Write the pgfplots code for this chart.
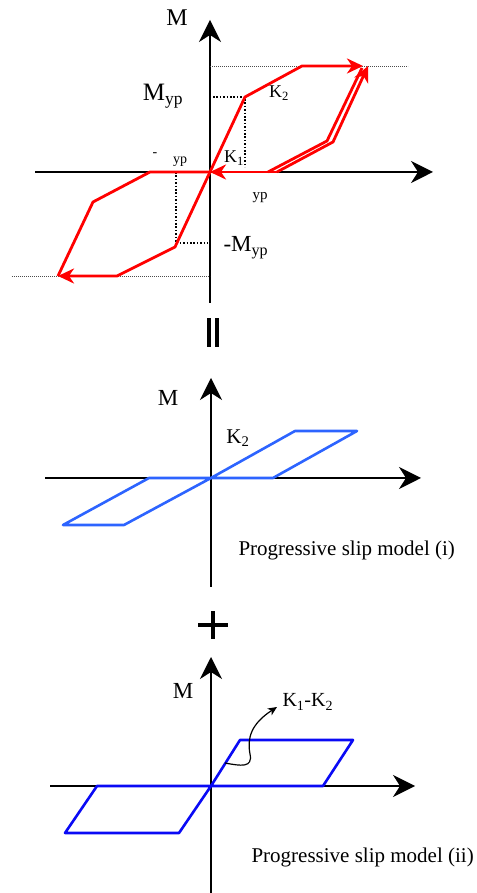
\documentclass[border=0pt]{standalone}
\usepackage{pgfplots}
\pgfplotsset{compat=1.18}
\usepackage{fontspec}
\setmainfont{Liberation Serif}
\usetikzlibrary{arrows.meta}

\definecolor{lightblue}{RGB}{45,100,255}
\definecolor{deepblue}{RGB}{10,10,245}

\pgfplotsset{
  panel/.style={axis lines=middle, ticks=none, scale only axis,
    anchor=south west, clip=false,
    axis line style={line width=1.6pt, -{Stealth[length=22pt,width=22pt,inset=7pt]}}},
  redline/.style={red, line width=2.8pt, line join=round},
  redarrow/.style={redline, -{Stealth[length=16pt,width=15pt,inset=5pt]}},
  dotblack/.style={black, line width=1.6pt, dash pattern=on 1.6pt off 1.8pt},
  dotgray/.style={black!70, line width=0.5pt, dash pattern=on 0.8pt off 1.2pt},
}
\newcommand{\fs}[1]{\fontsize{#1}{#1}\selectfont}

\begin{document}
\begin{tikzpicture}[x=1pt,y=1pt]
\useasboundingbox (0,0) rectangle (476,893);

% panel 1: combined hysteresis
\begin{axis}[panel, at={(35,590)}, width=398pt, height=283pt,
  xmin=-175, xmax=223, ymin=-131, ymax=152]
\addplot[dotgray] coordinates {(0,106) (198,106)};
\addplot[dotgray] coordinates {(-198,-104) (0,-104)};
\addplot[dotblack] coordinates {(3,75) (35,75) (35,5)};
\addplot[dotblack] coordinates {(-34,0) (-34,-71) (-2,-71)};
\addplot[redarrow] coordinates {(0,0) (35,75) (92,106) (153,106)};
\addplot[redarrow] coordinates {(67,0) (123,30) (158,106)};
\addplot[redline] coordinates {(58,0) (117,31) (152,104)};
\addplot[redarrow] coordinates {(67,0) (0,0)};
\addplot[redarrow] coordinates {(0,0) (-35,-75) (-93,-104) (-152,-104)};
\addplot[redline] coordinates {(-152,-104) (-117,-30) (-60,0) (0,0)};
\node at (axis cs:-33,154) {\fs{24}M};
\node at (axis cs:-47,76) {\fs{25}M\textsubscript{yp}};
\node at (axis cs:69,79) {\fs{18}K\textsubscript{2}};
\node at (axis cs:24,14) {\fs{18}K\textsubscript{1}};
\node at (axis cs:-55,17) {\fs{14}-};
\node at (axis cs:-30,10) {\fs{14}yp};
\node at (axis cs:50,-26) {\fs{15}yp};
\node[anchor=west] at (axis cs:10,-76) {\fs{23}-M\textsubscript{yp}};
\end{axis}

% equals sign
\fill (207,546) rectangle (211,575);
\fill (215,546) rectangle (219,575);

% panel 2: progressive slip model (i)
\begin{axis}[panel, at={(45,306)}, width=376pt, height=209pt,
  xmin=-166, xmax=210, ymin=-109, ymax=100]
\addplot[lightblue, line width=2.6pt, line join=round] coordinates {
  (0,0) (84,47) (146,47) (62,0) (0,0) (-62,0) (-148,-47) (-87,-47) (0,0)};
\node at (axis cs:-43,80) {\fs{23}M};
\node at (axis cs:27,40) {\fs{21}K\textsubscript{2}};
\node[anchor=west] at (axis cs:24,-72) {\fs{21}Progressive slip model (i)};
\end{axis}

% plus sign
\draw[line width=4.5pt] (198,268) -- (228,268);
\draw[line width=4.5pt] (213,254) -- (213,282);

% panel 3: progressive slip model (ii)
\begin{axis}[panel, at={(50,0)}, width=365pt, height=236pt,
  xmin=-161, xmax=204, ymin=-107, ymax=129]
\addplot[deepblue, line width=2.6pt, line join=round] coordinates {
  (0,0) (29,46) (142,46) (112,0) (0,0) (-114,0) (-146,-47) (-32,-47) (0,0)};
\draw[line width=1.2pt, -{Stealth[length=9pt,width=8pt,inset=2.5pt]}]
  (axis cs:14,23) .. controls (axis cs:30,20) and (axis cs:42,18) ..
  (axis cs:39,32) .. controls (axis cs:36,48) and (axis cs:40,62) ..
  (axis cs:66,79);
\node at (axis cs:-28,95) {\fs{23}M};
\node[anchor=west] at (axis cs:68,84) {\fs{20}K\textsubscript{1}-K\textsubscript{2}};
\node[anchor=west] at (axis cs:37,-71) {\fs{21}Progressive slip model (ii)};
\end{axis}
\end{tikzpicture}
\end{document}
